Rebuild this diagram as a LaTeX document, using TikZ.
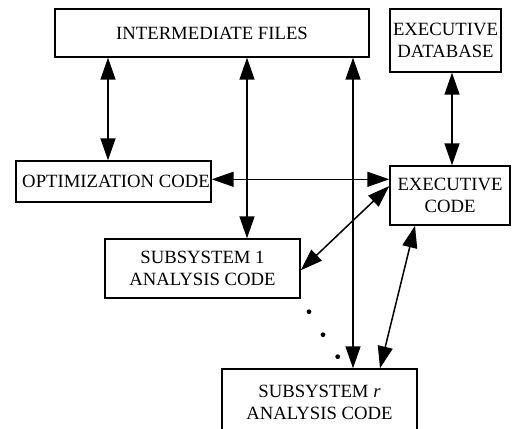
\documentclass[tikz,border=0pt]{standalone}
\usepackage{fontspec}
\setmainfont{Liberation Serif}
\usetikzlibrary{arrows.meta}
\begin{document}
\begin{tikzpicture}[x=1pt,y=-1pt,
  box/.style={draw, line width=1.4pt, inner sep=0pt, align=center,
    font=\fontsize{18.7}{22}\selectfont},
  link/.style={line width=1.5pt,
    {Triangle[length=22pt,width=15pt]}-{Triangle[length=22pt,width=15pt]}}]
\useasboundingbox (0,0) rectangle (513,428);

% boxes
\node[box, minimum width=314, minimum height=48] (files) at (212,33) {INTERMEDIATE FILES};
\node[box, minimum width=111, minimum height=63] (db) at (445.5,40.5) {EXECUTIVE\\DATABASE};
\node[box, minimum width=195, minimum height=41] (opt) at (113.5,181.5) {\hspace*{5pt}OPTIMIZATION CODE};
\node[box, minimum width=120, minimum height=59] (exec) at (450,195.5) {EXECUTIVE\\CODE};
\node[box, minimum width=195, minimum height=59] (sub1) at (202.5,268.5) {SUBSYSTEM 1\\ANALYSIS CODE};
\node[box, minimum width=195, minimum height=66] (subr) at (319.5,402) {SUBSYSTEM \textit{r}\\ANALYSIS CODE};

% columns of the vertical connectors
\coordinate (c1) at (108,0);
\coordinate (c2) at (247,0);
\coordinate (c3) at (353,0);
\coordinate (c4) at (452,0);
\coordinate (r1) at (0,179.3);

% connectors
\draw[link] (files.south -| c1) -- (opt.north -| c1);
\draw[link] (files.south -| c2) -- (sub1.north -| c2);
\draw[link] (files.south -| c3) -- (subr.north -| c3);
\draw[link] (db.south -| c4) -- (exec.north -| c4);
\draw[link] (opt.east |- r1) -- (exec.west |- r1);
\draw[link] ([yshift=-1.8pt]sub1.east) -- ([yshift=9.5pt]exec.west);
\draw[link] ([xshift=-35pt]exec.south) -- ([xshift=60.5pt]subr.north);

% ellipsis between the subsystems
\foreach \px/\py [count=\i] in {309/311.7, 323/334.7, 337.7/356.7}
  \fill (\px,\py) circle (2.4pt) coordinate (dot\i);
\end{tikzpicture}
\end{document}
